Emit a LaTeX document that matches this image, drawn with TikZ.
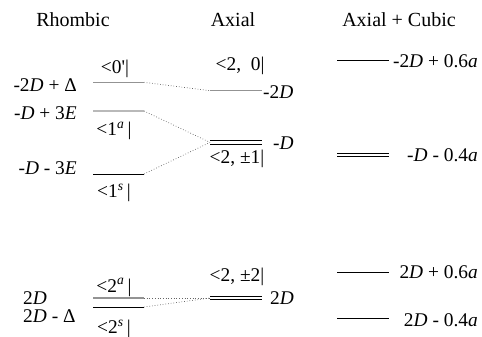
\documentclass[tikz,border=0pt]{standalone}
\usepackage{fontspec}
\setmainfont{Liberation Serif}
\usetikzlibrary{positioning}
\newcommand{\brastate}[1]{<#1|}

\begin{document}
\begin{tikzpicture}[x=1pt, y=-1pt,
    title/.style={inner sep=0pt, font=\fontsize{20}{24}\selectfont},
    lbl/.style={inner sep=0pt, font=\fontsize{19.4}{24}\selectfont},
    lvl/.style={line width=0.9pt, black},
    lvlgray/.style={line width=1.4pt, gray!85},
    lvllight/.style={line width=1.1pt, gray!55},
    link/.style={dotted, line width=0.7pt, gray!80!black}
]
\useasboundingbox (0,0) rectangle (482,337);

%% Column titles
\node[title] (tRhomb) at (73,20)  {Rhombic};
\node[title] (tAxial) at (233,20) {Axial};
\node[title] (tCubic) at (399,20) {Axial + Cubic};

%% Rhombic levels
\coordinate (r0L)  at (93,82.3);  \coordinate (r0R)  at (144,82.3);
\coordinate (r1aL) at (93,111);   \coordinate (r1aR) at (144,111);
\coordinate (r1sL) at (93,174);   \coordinate (r1sR) at (144,174);
\coordinate (r2aL) at (93,298);   \coordinate (r2aR) at (144,298);
\coordinate (r2sL) at (93,307);   \coordinate (r2sR) at (144,307);
\draw[lvlgray]  (r0L)  -- (r0R);
\draw[lvllight] (r1aL) -- (r1aR);
\draw[lvl]      (r1sL) -- (r1sR);
\draw[lvlgray]  (r2aL) -- (r2aR);
\draw[lvl]      (r2sL) -- (r2sR);

\node[lbl, anchor=east] (eR0)  at (77,85)    {-2\textit{D} + Δ};
\node[lbl, anchor=east] (eR1a) at (77,113.5) {-\textit{D} + 3\textit{E}};
\node[lbl, anchor=east] (eR1s) at (77,168)   {-\textit{D} - 3\textit{E}};
\node[lbl, anchor=west] (eR2a) at (23,298.5) {2\textit{D}};
\node[lbl, anchor=west] (eR2s) at (23,316.5) {2\textit{D} - Δ};

\node[lbl] (kR0)  at (115,68.5) {\brastate{0\textquotesingle}};
\node[lbl] (kR1a) at (114,131)  {\brastate{1\textsuperscript{\textit{a}}\,}};
\node[lbl] (kR1s) at (114,193)  {\brastate{1\textsuperscript{\textit{s}}\,}};
\node[lbl] (kR2a) at (114,287.5){\brastate{2\textsuperscript{\textit{a}}\,}};
\node[lbl] (kR2s) at (114,329)  {\brastate{2\textsuperscript{\textit{s}}\,}};

%% Axial levels
\coordinate (a0L) at (210,90.7);  \coordinate (a0R) at (262,90.7);
\coordinate (a1L) at (210,142.4); \coordinate (a1R) at (262,142.4);
\coordinate (a2L) at (210,298);   \coordinate (a2R) at (262,298);
\draw[lvlgray] (a0L) -- (a0R);
\draw[lvl] ([yshift=1.8pt]a1L) -- ([yshift=1.8pt]a1R);
\draw[lvl] ([yshift=-1.8pt]a1L) -- ([yshift=-1.8pt]a1R);
\draw[lvl] ([yshift=1.8pt]a2L) -- ([yshift=1.8pt]a2R);
\draw[lvl] ([yshift=-1.8pt]a2L) -- ([yshift=-1.8pt]a2R);

\node[lbl, anchor=west] (eA0) at (263,92)    {-2\textit{D}};
\node[lbl, anchor=west] (eA1) at (273,143)   {-\textit{D}};
\node[lbl, anchor=west] (eA2) at (270,298.5) {2\textit{D}};

\node[lbl] (kA0) at (240,65.5)  {\brastate{2,\ \ 0}};
\node[lbl] (kA1) at (237,159)   {\brastate{2, ±1}};
\node[lbl] (kA2) at (237,276.5) {\brastate{2, ±2}};

%% Axial + cubic levels
\coordinate (c0L)  at (337,60.7); \coordinate (c0R)  at (389,60.7);
\coordinate (c1L)  at (337,155);  \coordinate (c1R)  at (389,155);
\coordinate (c2aL) at (337,272);  \coordinate (c2aR) at (389,272);
\coordinate (c2sL) at (337,318);  \coordinate (c2sR) at (389,318);
\draw[lvl] (c0L) -- (c0R);
\draw[lvl] ([yshift=1.8pt]c1L) -- ([yshift=1.8pt]c1R);
\draw[lvl] ([yshift=-1.8pt]c1L) -- ([yshift=-1.8pt]c1R);
\draw[lvl] (c2aL) -- (c2aR);
\draw[lvl] (c2sL) -- (c2sR);

\node[lbl, anchor=east] (eC0)  at (478,61)    {-2\textit{D} + 0.6\textit{a}};
\node[lbl, anchor=east] (eC1)  at (478,155.5) {-\textit{D} - 0.4\textit{a}};
\node[lbl, anchor=east] (eC2a) at (478,272)   {2\textit{D} + 0.6\textit{a}};
\node[lbl, anchor=east] (eC2s) at (478,320)   {2\textit{D} - 0.4\textit{a}};

%% Correlation lines
\draw[link] (r0R)  -- (a0L);
\draw[link] (r1aR) -- (a1L);
\draw[link] (r1sR) -- (a1L);
\draw[link] (r2aR) -- (a2L);
\draw[link] (r2sR) -- (a2L);

\end{tikzpicture}
\end{document}
